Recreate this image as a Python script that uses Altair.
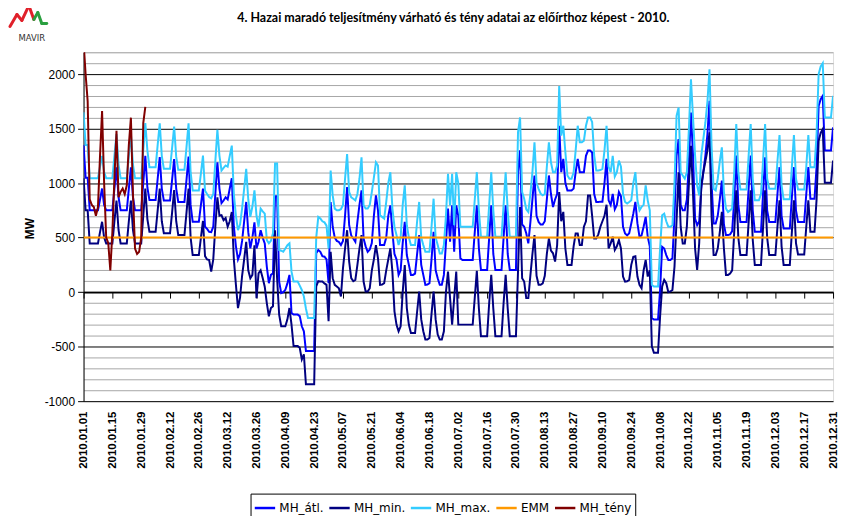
import altair as alt
import pandas as pd

# ---------------- data ----------------
tick_labels = ["2010.01.01", "2010.01.15", "2010.01.29", "2010.02.12", "2010.02.26",
               "2010.03.12", "2010.03.26", "2010.04.09", "2010.04.23", "2010.05.07",
               "2010.05.21", "2010.06.04", "2010.06.18", "2010.07.02", "2010.07.16",
               "2010.07.30", "2010.08.13", "2010.08.27", "2010.09.10", "2010.09.24",
               "2010.10.08", "2010.10.22", "2010.11.05", "2010.11.19", "2010.12.03",
               "2010.12.17", "2010.12.31"]

series_names = ["MH_átl.", "MH_min.", "MH_max.", "EMM", "MH_tény"]
series_colors = ["#0000FF", "#000080", "#33CCFF", "#FF9900", "#800000"]

title_text = "4. Hazai maradó teljesítmény várható és tény adatai az előírthoz képest - 2010."

# daily values (MW), 2010-01-01 .. 2010-12-31, one line per month
mh_max = [
    1650, 1350, 1350, 1045, 1045, 1045, 1045, 1045, 1150, 1250, 1100, 1045, 1045, 1045, 1045, 1250, 1450, 1170, 1045, 1045, 1045, 1045, 1250, 1450, 1170, 1045, 1045, 1045, 1045, 1300, 1550,
    1300, 1146, 1146, 1146, 1146, 1350, 1548, 1250, 1131, 1131, 1131, 1131, 1320, 1518, 1240, 1122, 1122, 1122, 1122, 1330, 1548, 1100, 933, 933, 933, 933, 1090, 1253,
    930, 900, 873, 860, 900, 1200, 1488, 1250, 1116, 1140, 1162, 1150, 1250, 1344, 900, 700, 569, 620, 766, 950, 1131, 850, 690, 785, 933, 700, 600, 766, 740, 720, 477,
    447, 470, 539, 1180, 1180, 386, 380, 370, 400, 430, 447, 188, 97, 97, 97, 60, 20, -40, -150, -237, -237, -237, -237, 500, 690, 675, 650, 640, 610, 400,
    1115, 887, 766, 751, 751, 760, 800, 1040, 1267, 918, 870, 857, 842, 900, 1040, 1237, 796, 766, 766, 800, 918, 1050, 1191, 1161, 705, 690, 675, 827, 1000, 1100, 766,
    600, 523, 432, 500, 800, 979, 614, 500, 432, 432, 432, 650, 827, 500, 432, 370, 370, 370, 600, 857, 500, 432, 355, 355, 432, 700, 1085, 796, 1085, 614,
    1100, 1000, 600, 599, 599, 599, 599, 599, 599, 850, 1100, 750, 508, 508, 508, 508, 800, 1100, 750, 508, 508, 508, 508, 800, 1100, 750, 508, 508, 508, 508, 1465,
    1602, 918, 857, 760, 735, 900, 1100, 1374, 1000, 948, 903, 888, 900, 1150, 1374, 1191, 1100, 1100, 1161, 1890, 1435, 1526, 1283, 1070, 1040, 1040, 1100, 1300, 1526, 1374, 1374,
    1389, 1526, 1602, 1602, 1560, 1252, 1115, 1115, 1120, 1130, 1300, 1526, 1150, 1100, 1250, 1060, 1100, 1206, 1150, 900, 827, 812, 826, 842, 1000, 1100, 842, 751, 782, 800,
    979, 842, 750, 67, 52, 52, 52, 400, 705, 720, 650, 600, 599, 614, 1000, 1617, 1693, 1100, 1070, 1040, 1100, 1500, 1951, 1600, 1252, 979, 887, 1250, 1404, 1556, 1750,
    2043, 1340, 948, 933, 1040, 1200, 1328, 918, 766, 735, 750, 766, 1100, 1541, 1100, 942, 942, 942, 942, 1250, 1541, 1040, 842, 842, 842, 900, 1200, 1541, 1040, 948,
    948, 948, 948, 1200, 1441, 980, 851, 851, 851, 851, 1150, 1441, 1040, 942, 942, 942, 942, 1150, 1441, 1146, 1146, 1146, 1450, 2000, 2070, 2100, 1602, 1602, 1602, 1602, 1800,
]

mh_atl = [
    1350, 1050, 1050, 750, 750, 750, 750, 750, 850, 950, 800, 750, 750, 750, 750, 950, 1145, 870, 750, 750, 750, 750, 950, 1145, 870, 750, 750, 750, 750, 1000, 1250,
    960, 845, 845, 845, 845, 1040, 1238, 950, 840, 840, 840, 840, 1030, 1220, 950, 827, 827, 827, 827, 1030, 1244, 800, 645, 645, 645, 645, 800, 949,
    600, 580, 553, 550, 600, 900, 1190, 950, 816, 840, 870, 850, 950, 1044, 600, 420, 300, 350, 470, 650, 827, 550, 401, 500, 640, 400, 462, 568, 500, 447, 234,
    82, 158, 173, 880, 880, 97, -9, 0, 21, 80, 158, -191, -206, -206, -206, -220, -313, -359, -541, -541, -541, -541, -541, 356, 386, 370, 330, 325, 300, 82,
    827, 600, 500, 470, 460, 432, 470, 700, 964, 614, 520, 492, 462, 644, 800, 933, 492, 420, 370, 390, 450, 700, 887, 750, 432, 432, 432, 500, 700, 796, 553,
    350, 300, 158, 200, 450, 644, 340, 250, 158, 158, 170, 350, 523, 250, 158, 67, 70, 82, 300, 553, 200, 128, 67, 67, 158, 450, 766, 462, 796, 370,
    796, 700, 310, 295, 295, 295, 295, 295, 295, 550, 796, 400, 204, 204, 204, 204, 500, 796, 350, 204, 204, 204, 204, 500, 796, 350, 204, 204, 204, 204, 1100,
    1300, 620, 599, 540, 447, 640, 850, 1070, 700, 644, 620, 620, 650, 850, 1070, 900, 781, 850, 900, 1526, 1100, 1222, 1000, 933, 933, 933, 950, 1100, 1222, 1100, 1100,
    1100, 1250, 1298, 1298, 1280, 900, 826, 826, 830, 830, 1000, 1222, 842, 800, 900, 760, 800, 918, 880, 600, 538, 520, 540, 630, 720, 827, 630, 508, 520, 600,
    690, 508, 420, -237, -252, -252, -252, 21, 416, 400, 340, 295, 295, 310, 700, 1250, 1404, 800, 751, 751, 850, 1200, 1647, 1250, 675, 614, 650, 950, 1100, 1252, 1450,
    1754, 1000, 629, 629, 700, 850, 1024, 620, 523, 523, 530, 560, 850, 1252, 800, 644, 644, 644, 644, 950, 1252, 750, 553, 553, 553, 553, 900, 1237, 750, 644,
    644, 644, 644, 900, 1146, 700, 584, 584, 584, 584, 870, 1146, 750, 644, 644, 644, 644, 900, 1146, 857, 857, 857, 1150, 1708, 1770, 1800, 1298, 1298, 1298, 1298, 1511,
]

mh_min = [
    1045, 750, 750, 447, 447, 447, 447, 447, 550, 645, 500, 447, 447, 447, 447, 650, 840, 570, 447, 447, 447, 447, 650, 840, 570, 447, 447, 447, 447, 700, 950,
    670, 553, 553, 553, 553, 750, 949, 650, 540, 540, 540, 540, 730, 935, 650, 523, 523, 523, 523, 730, 949, 500, 340, 340, 340, 340, 500, 653,
    330, 300, 295, 188, 300, 600, 870, 700, 705, 660, 680, 600, 650, 735, 300, 67, -146, -50, 150, 300, 462, 200, 128, 158, 430, -55, 173, 200, 130, 50, -100,
    -222, -146, -130, 568, 128, -207, -313, -313, -313, -250, -146, -298, -495, -495, -495, -510, -617, -570, -845, -845, -845, -845, -845, 52, 100, 97, 97, 80, 67, -267,
    370, 128, 67, 52, 36, -40, 220, 400, 568, 280, 128, 100, 112, 250, 400, 523, 97, 6, 6, 36, 200, 300, 432, 310, 67, 70, 82, 200, 300, 401, 188,
    -176, -300, -359, -313, 0, 249, -146, -300, -374, -374, -374, -180, 6, -250, -359, -435, -435, -420, -200, 6, -250, -389, -435, -435, -359, 0, 188, -55, -298, -55,
    188, -298, -298, -298, -298, -298, -298, -298, -298, -50, 195, -150, -404, -404, -404, -404, -100, 158, -150, -404, -404, -404, -404, -100, 158, -150, -404, -404, -404, -404, 190,
    781, 128, 97, -55, -55, 150, 350, 523, 150, 67, 67, 80, 150, 350, 492, 380, 356, 280, 430, 918, 650, 736, 400, 249, 249, 249, 420, 538, 538, 432, 432,
    600, 650, 887, 887, 700, 492, 492, 530, 600, 650, 700, 802, 401, 447, 508, 386, 420, 477, 400, 143, 97, 100, 112, 250, 325, 330, 143, 67, 36, 200,
    295, 143, 200, -496, -557, -557, -557, -222, 52, 112, 82, 0, 6, 20, 234, 660, 1100, 600, 447, 447, 600, 1000, 1343, 900, 400, 204, 450, 979, 1100, 1200, 1300,
    1465, 700, 340, 340, 400, 550, 736, 400, 158, 158, 170, 200, 550, 933, 500, 340, 340, 340, 340, 640, 933, 480, 249, 249, 249, 249, 590, 933, 500, 340,
    340, 340, 340, 600, 842, 420, 249, 249, 249, 249, 550, 842, 450, 346, 346, 346, 346, 600, 842, 553, 553, 553, 850, 1389, 1460, 1495, 1003, 1003, 1003, 1003, 1207,
]

emm = [500] * 365

# actual data only for January
mh_teny = [2300, 2000, 1750, 850, 800, 780, 700, 780, 1250, 1660, 1000, 500, 450, 200, 550,
           1050, 1480, 870, 920, 950, 900, 980, 1350, 1600, 900, 400, 350, 370, 500, 1550, 1700]

for s in (mh_max, mh_atl, mh_min):
    assert len(s) == 365, len(s)

# ---------------- build table ----------------
dates = pd.date_range("2010-01-01", periods=365, freq="D").strftime("%Y-%m-%d")
rows = []
for name, vals in zip(series_names, [mh_atl, mh_min, mh_max, emm, mh_teny]):
    for d, v in zip(dates, vals):
        rows.append({"date": d, "value": v, "series": name})
df = pd.DataFrame(rows)

def to_dt(s):
    y, m, d = (int(p) for p in s.split("."))
    return alt.DateTime(year=y, month=m, date=d, utc=True)

tick_values = [to_dt(s) for s in tick_labels]

W, H = 754, 351
Y_MIN, Y_MAX = -1000, 2200
zero_px = H * Y_MAX / (Y_MAX - Y_MIN)

x_enc = alt.X(
    "date:T",
    scale=alt.Scale(type="utc", domain=[tick_values[0], tick_values[-1]], nice=False),
    axis=alt.Axis(
        values=tick_values, format="%Y.%m.%d", labelAngle=-90, labelOverlap=False,
        labelFlush=False, labelBound=False,
        labelFont="Liberation Sans", labelFontSize=11.5, labelFontWeight="bold", labelColor="black",
        offset=-(H - zero_px), domainColor="black", domainWidth=2,
        tickColor="black", tickSize=6, tickWidth=1,
        labelPadding=H - zero_px + 4, grid=False, title=None,
    ),
)

y_enc = alt.Y(
    "value:Q",
    scale=alt.Scale(domain=[Y_MIN, Y_MAX], nice=False, zero=False),
    axis=alt.Axis(
        values=list(range(Y_MIN, Y_MAX + 1, 100)),
        labelExpr="datum.value % 500 === 0 ? '' + datum.value : ''",
        grid=True,
        gridColor=alt.condition("datum.value % 500 === 0", alt.value("#000000"), alt.value("#a6a6a6")),
        gridWidth=1,
        tickOpacity=alt.condition("datum.value % 500 === 0", alt.value(1), alt.value(0)),
        tickColor="black", tickSize=6, domainColor="black", domainWidth=1,
        labelFont="Liberation Sans", labelFontSize=12, labelColor="black", labelPadding=3,
        title="MW", titleFont="Liberation Sans", titleFontSize=12, titleFontWeight="bold",
        titleColor="black", titleX=-47, titleY=177,
    ),
)

legend = alt.Legend(
    title=None, orient="none", legendX=168, legendY=444, direction="horizontal", columns=5,
    gridAlign="none",
    symbolType="stroke", symbolSize=420, symbolStrokeWidth=2.5,
    labelFont="DejaVu Sans", labelFontSize=12, labelColor="black", labelOffset=3,
    columnPadding=0, strokeColor="black", padding=3,
)

color_enc = alt.Color("series:N", scale=alt.Scale(domain=series_names, range=series_colors), legend=legend)

layers = []
for name in series_names:
    layers.append(
        alt.Chart(df).transform_filter(alt.datum.series == name)
        .mark_line(strokeWidth=2, clip=True)
        .encode(x=x_enc, y=y_enc, color=color_enc)
    )

one = pd.DataFrame({"t": [title_text]})

title_mark = alt.Chart(one).mark_text(
    font="Lato", fontSize=12.5, fontWeight="bold", color="black", align="center", baseline="middle"
).encode(text="t:N", x=alt.value(372), y=alt.value(-34))

logo_text = alt.Chart(pd.DataFrame({"t": ["MAVIR"]})).mark_text(
    font="DejaVu Sans", fontSize=8.5, color="#333333", align="center", baseline="middle"
).encode(text="t:N", x=alt.value(-52), y=alt.value(-14))

# MAVIR logo zigzag (decoration, chart pixel positions relative to plot origin)
def seg(x1, y1, x2, y2, col):
    return alt.Chart(one).mark_rule(color=col, strokeWidth=3, strokeCap="round").encode(
        x=alt.value(x1 - 84), y=alt.value(y1 - 51), x2=alt.value(x2 - 84), y2=alt.value(y2 - 51))

red = "#e0202a"
green = "#2aa040"
logo = [
    seg(10, 25, 17, 13, red), seg(17, 13, 22, 19, red), seg(22, 19, 29, 4, red), seg(29, 4, 34, 18, red),
    seg(34, 18, 38, 11, green), seg(38, 11, 42, 22, green), seg(42, 22, 47, 22, green),
]

chart = alt.layer(*layers, title_mark, logo_text, *logo).properties(
    width=W, height=H,
    padding={"left": 76, "top": 43, "right": 8, "bottom": 114},
    autosize="none",
).configure_view(stroke="#a0a0a0").configure(background="white")

chart.save("out.html", embed_options={"renderer": "svg", "actions": False})
